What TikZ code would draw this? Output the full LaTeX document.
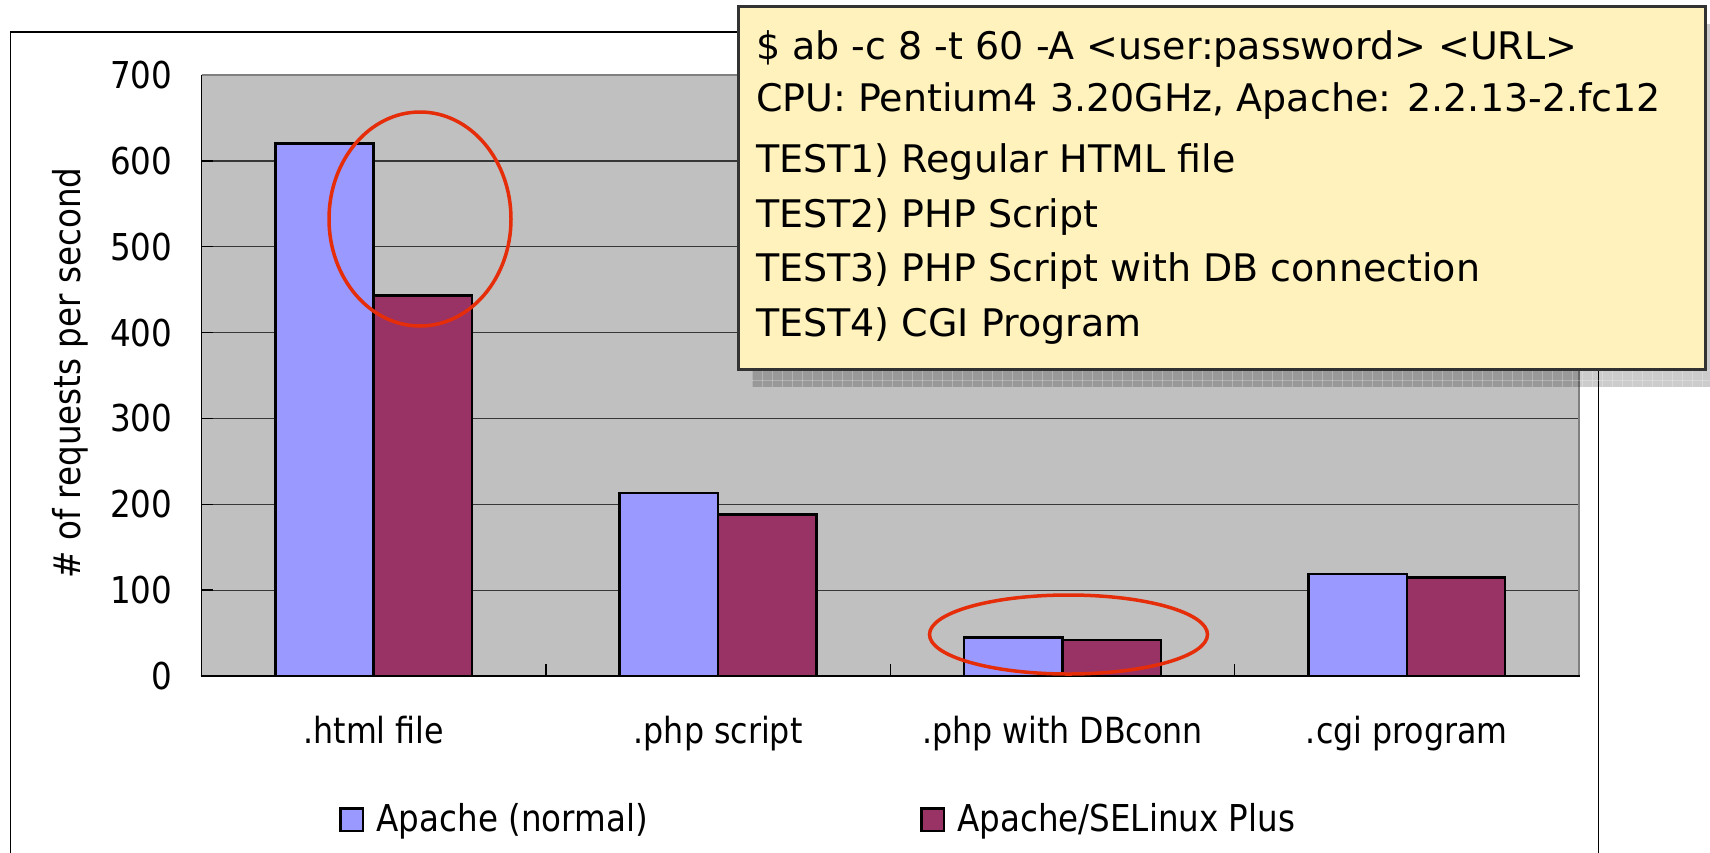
\documentclass[tikz,border=0pt]{standalone}
\usepackage{fontspec}
\setmainfont{DejaVu Sans}
\newfontfamily\chartfont[FakeStretch=0.88]{DejaVu Sans}
\newfontfamily\notefont{DejaVu Sans}
\definecolor{plotgray}{RGB}{192,192,192}
\definecolor{barblue}{RGB}{153,153,255}
\definecolor{barmaroon}{RGB}{153,51,102}
\definecolor{ringred}{RGB}{230,45,10}
\definecolor{boxyellow}{RGB}{255,242,189}
\definecolor{boxedge}{RGB}{51,51,51}
\definecolor{gridc}{RGB}{55,55,55}
\definecolor{bordergray}{RGB}{128,128,128}
\tikzset{
  chartlabel/.style={inner sep=0pt, font=\chartfont\fontsize{37}{44}\selectfont},
  catlabel/.style={inner sep=0pt, font=\chartfont\fontsize{36}{43}\selectfont, anchor=base},
  notetext/.style={inner sep=0pt, anchor=base west, font=\notefont\fontsize{38}{45}\selectfont},
  gridline/.style={draw=gridc, line width=1.3pt},
  barbox/.style={draw=black, line width=2.5pt},
  ring/.style={draw=ringred, line width=3.5pt},
  legendbox/.style={draw=black, line width=2.2pt},
}
\begin{document}
\begin{tikzpicture}[x=1pt, y=-1pt]
\useasboundingbox (0,0) rectangle (1710,852);
\fill[white] (0,0) rectangle (1710,852);
% outer chart frame
\draw[black, line width=1.6pt] (10.5,870) -- (10.5,32) -- (1598.5,32) -- (1598.5,870);
% plot area
\fill[plotgray] (201.5,75) rectangle (1579,676);
\foreach \v in {1,...,6} {
  \draw[gridline] (201.5,{676-\v*85.857}) -- (1579,{676-\v*85.857});
}
% left tick marks
\foreach \v in {0,...,7} {
  \draw[black, line width=1.5pt] (201.5,{676-\v*85.857}) -- (213,{676-\v*85.857});
}
% bottom category tick marks
\foreach \k in {0,...,4} {
  \draw[black, line width=1.3pt] ({201.5+\k*344.375},676) -- ({201.5+\k*344.375},664);
}
% plot borders
\draw[bordergray, line width=2.5pt] (201.5,75) -- (1579,75) -- (1579,676);
\draw[black, line width=1.5pt] (201.5,75) -- (201.5,676);
\draw[black, line width=2pt] (200.5,676) -- (1580,676);
% bars
\foreach \i/\a/\b in {0/620/443, 1/213/188, 2/45/42, 3/119/115} {
  \pgfmathsetmacro\c{201.5+344.375*(\i+0.5)}
  \draw[barbox, fill=barblue] ({\c-98.4},676) rectangle (\c,{676-\a*0.85857});
  \draw[barbox, fill=barmaroon] (\c,676) rectangle ({\c+98.4},{676-\b*0.85857});
}
% y tick labels
\foreach \v/\t in {0/0,1/100,2/200,3/300,4/400,5/500,6/600,7/700} {
  \node[chartlabel, anchor=base east] (ytick\v) at (172.5,{676-\v*85.857+13.5}) {\t};
}
% y axis title
\node[chartlabel, anchor=base, rotate=90] (ytitle) at (80,373) {\# of requests per second};
% category labels
\node[catlabel] (cat1) at (373.7,743) {.html file};
\node[catlabel] (cat2) at (718.1,743) {.php script};
\node[catlabel] (cat3) at (1062.4,743) {.php with DBconn};
\node[catlabel] (cat4) at (1406.8,743) {.cgi program};
% legend
\draw[legendbox, fill=barblue] (340.5,808.5) rectangle (363,831);
\node[chartlabel, anchor=base west] (leg1) at (376.5,831.5) {Apache (normal)};
\draw[legendbox, fill=barmaroon] (921.5,808.5) rectangle (944,831);
\node[chartlabel, anchor=base west] (leg2) at (957,831.5) {Apache/SELinux Plus};
% red highlight rings
\draw[ring] (420,219) ellipse [x radius=91, y radius=107];
\draw[ring] (1068.5,634.5) ellipse [x radius=139, y radius=39.5];
% note box shadow
\fill[black, opacity=0.2] (752,24) rectangle (1720,387);
\begin{scope}
  \clip (752,369) rectangle (1720,387);
  \foreach \gx in {752,762,...,1712} {
    \draw[white, opacity=0.25, line width=0.8pt] (\gx,369) -- (\gx,387);
  }
  \foreach \gy in {370,380} {
    \draw[white, opacity=0.25, line width=0.8pt] (752,\gy) -- (1720,\gy);
  }
\end{scope}
% note box
\draw[draw=boxedge, line width=3pt, fill=boxyellow] (738,6.5) rectangle (1705,369);
\node[notetext] (n1) at (756,59) {\$ ab -c 8 -t 60 -A <user:password> <URL>};
\node[notetext] (n2) at (756,111) {CPU: Pentium4 3.20GHz, Apache: 2.2.13-2.fc12};
\node[notetext] (n3) at (756,172) {TEST1) Regular HTML file};
\node[notetext] (n4) at (756,227) {TEST2) PHP Script};
\node[notetext] (n5) at (756,281) {TEST3) PHP Script with DB connection};
\node[notetext] (n6) at (756,336) {TEST4) CGI Program};
\end{tikzpicture}
\end{document}
